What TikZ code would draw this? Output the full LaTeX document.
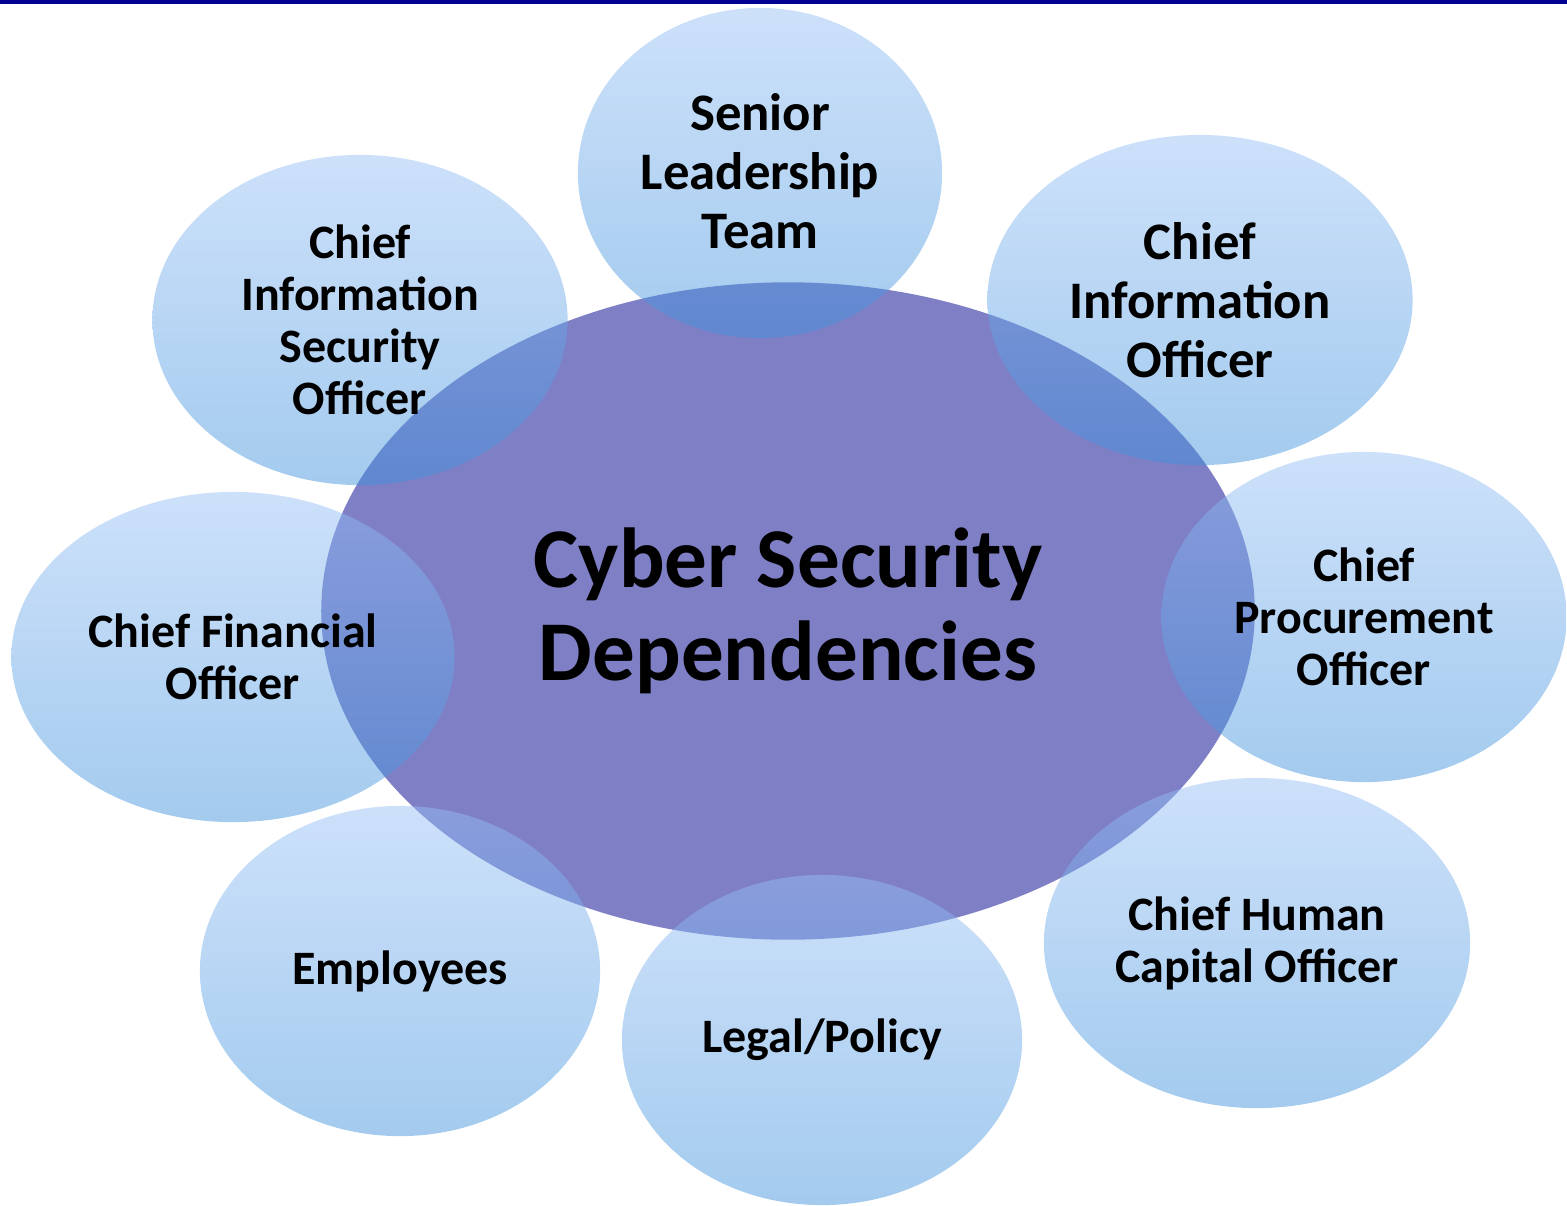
\documentclass[tikz,border=0pt]{standalone}
\usepackage{fontspec}
\setmainfont{Carlito}
\usetikzlibrary{shapes.geometric}
\definecolor{satTop}{RGB}{150,191,245}
\definecolor{satBot}{RGB}{63,146,219}
\definecolor{coreFill}{RGB}{127,127,198}
\definecolor{topRule}{RGB}{0,0,145}

\begin{document}
\begin{tikzpicture}[x=0.01cm, y=-0.01cm,
sat/.style ={ellipse, inner sep=0pt, top color=satTop, bottom color=satBot, fill opacity=0.48, minimum height=3.3cm},
lbl/.style ={align=center, font=\bfseries\fontsize{13.65}{14.8}\selectfont},
lblbig/.style ={align=center, font=\bfseries\fontsize{15.0}{16.8}\selectfont}]
\useasboundingbox (0,0) rectangle (1567,1205);
\fill[topRule] (0,0) rectangle (1567,4);
\node[ellipse, fill=coreFill, inner sep=0pt, minimum width=9.33cm, minimum height=6.57cm] (core) at (788,611) {};
\node[sat, minimum width=3.64cm] (slt) at (760,173) {};
\node[sat, minimum width=4.15cm] (ciso) at (360,320) {};
\node[sat, minimum width=4.25cm] (cio) at (1200,300) {};
\node[sat, minimum width=4.43cm] (cfo) at (233,657) {};
\node[sat, minimum width=4.05cm] (cpo) at (1364,617) {};
\node[sat, minimum width=4.00cm] (emp) at (400,971) {};
\node[sat, minimum width=4.00cm] (legal) at (822,1040) {};
\node[sat, minimum width=4.26cm] (chco) at (1257,943) {};
\node[lblbig] (sltT) at ([yshift=0.02cm]slt) {Senior\\Leadership\\Team};
\node[lbl] (cisoT) at (ciso) {Chief\\Information\\Security\\Officer};
\node[lblbig] (cioT) at (cio) {Chief\\Information\\Officer};
\node[lbl] (cfoT) at (cfo) {Chief Financial\\Officer};
\node[lbl] (cpoT) at (cpo) {Chief\\Procurement\\Officer};
\node[lbl] (empT) at (emp) {Employees};
\node[lbl] (legalT) at (legal) {Legal/Policy};
\node[lbl] (chcoT) at (chco) {Chief Human\\Capital Officer};
\node[align=center, font=\bfseries\fontsize{24.2}{26.5}\selectfont] (coreT) at (core) {Cyber Security\\Dependencies};
\end{tikzpicture}
\end{document}
